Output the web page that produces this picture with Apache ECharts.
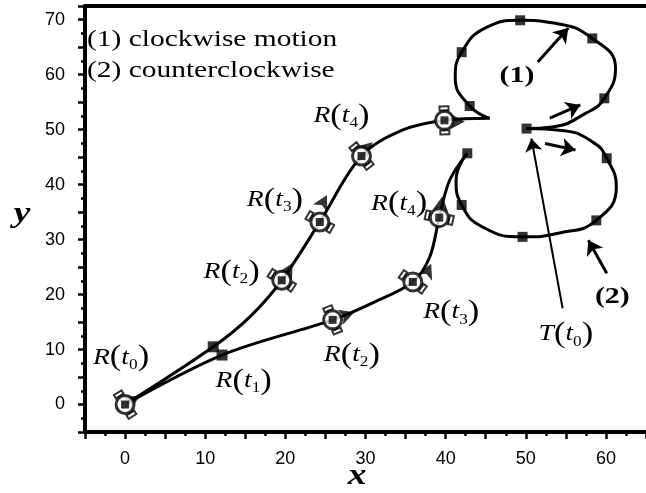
<!DOCTYPE html>
<html><head><meta charset="utf-8">
<script src="https://cdn.jsdelivr.net/npm/echarts@6/dist/echarts.min.js"></script>
<style>html,body{margin:0;padding:0;background:#fff}#c{width:646px;height:493px}</style>
</head><body><div id="c"></div>
<script>
// ---- data (in axis units) ----
const xTickLabels = [0, 10, 20, 30, 40, 50, 60];
const yTickLabels = [0, 10, 20, 30, 40, 50, 60, 70];

const robotPath1 = [[0,0],[11.0,10.5],[15.6,16.0],[19.55,22.6],[24.3,33.2],[29.5,45.2],[34.6,49.9],[39.85,51.7],[45.5,52.1]];
const robotPath2 = [[0,0],[12.1,9.0],[25.9,15.4],[30.9,18.5],[35.9,22.3],[38.0,26.8],[39.2,34.0],[40.5,40.8],[42.7,45.7]];
const targetLoop1 = [[50.1,50.2],[53.3,50.5],[57.5,53.0],[59.8,55.7],[61.2,61.2],[58.3,66.6],[53.5,69.4],[49.3,69.9],[45.1,68.6],[42.0,64.1],[41.2,59.5],[43.0,54.3],[45.5,52.1]];
const targetLoop2 = [[50.1,50.2],[54.8,49.8],[58.5,47.6],[60.1,44.8],[61.3,39.6],[58.8,33.5],[54.2,31.2],[49.6,30.5],[44.6,32.3],[42.0,36.3],[41.3,40.8],[42.7,45.7]];

const targetSquares = [[50.1,50.2],[59.8,55.7],[58.3,66.6],[49.3,69.9],[42.0,64.1],[43.0,54.3],
                       [60.1,44.8],[58.8,33.5],[49.6,30.5],[42.0,36.3],[42.7,45.7]];
const robotSquares = [[11.0,10.5],[12.1,9.0]];

// robot poses: x, y, heading (deg)
const robotPoses = [[0,0,32],[19.55,22.6,57],[24.3,33.2,60],[29.5,45.2,38],[39.85,51.7,2],
                    [25.9,15.4,22],[35.9,22.3,55],[39.2,34.0,78]];
// heading arrowheads: x, y, heading (deg)
const headingArrows = [[1.8,1.6,32],[20.9,25.7,60],[25.2,38.1,62],[30.9,47.7,42],[42.4,51.5,0],
                       [28.6,16.8,20],[38.2,25.6,65],[39.6,37.9,82]];
// pointer arrows: from -> to
const pointerArrows = [[[51.5,62.3],[55.3,68.5]],[[53.0,52.1],[56.8,54.5]],[[52.4,47.5],[56.2,46.3]],[[60.1,23.9],[57.8,29.9]]];
const targetPointer = [[[54.6,17.5],[50.7,48.4]]];

// point labels: letter, subscript, x, y
const pointLabels = [['R','0',-0.5,8.6],['R','1',14.8,4.3],['R','2',13.3,24.1],['R','3',18.7,37.2],['R','4',27.0,52.5],
                     ['R','2',28.3,9.0],['R','3',40.7,16.8],['R','4',34.2,36.6],['T','0',55.0,12.8]];
const loopLabels = [['(1)',48.9,59.7],['(2)',60.8,19.5]];
const legendLines = ['(1) clockwise motion','(2) counterclockwise'];

// ---- chart ----
const SERIF = "'Liberation Serif','Times New Roman',serif";
const SANS = "'Liberation Sans',Arial,Helvetica,sans-serif";
const wheelPath = 'path://M0 0H11V6H0Z M2 2V4H9V2Z M0 24H11V30H0Z M2 26V28H9V26Z';

function axisCommon(labels){
  return {
    axisLine:{show:true,onZero:false,lineStyle:{color:'#000',width:4}},
    axisTick:{show:true,inside:false,length:7,lineStyle:{color:'#000',width:2.5}},
    minorTick:{show:true,splitNumber:2,length:4,lineStyle:{color:'#000',width:2.5}},
    splitLine:{show:false},minorSplitLine:{show:false},
    axisLabel:{formatter:v=>labels.includes(v)?String(v):'',fontSize:18,fontFamily:SANS,color:'#000'}
  };
}
const xa = axisCommon(xTickLabels); xa.axisLabel.margin = 18;
const ya = axisCommon(yTickLabels); ya.axisLabel.margin = 20;

const lineStyleBase = {color:'#000',width:3};
const option = {
  animation:false,
  backgroundColor:'#fff',
  grid:{left:85,right:0,top:6,bottom:61,containLabel:false,outerBoundsMode:'none'},
  xAxis:[Object.assign({type:'value',min:-5,max:65,interval:5,position:'bottom'},xa),
         {type:'value',min:-5,max:65,position:'top',axisLine:{show:true,onZero:false,lineStyle:{color:'#000',width:4}},
          axisTick:{show:false},axisLabel:{show:false},splitLine:{show:false}}],
  yAxis:[Object.assign({type:'value',min:-5,max:72.5,interval:5},ya)],
  series:[
    {type:'line',data:robotPath1,showSymbol:false,smooth:0.35,lineStyle:lineStyleBase,z:2,silent:true},
    {type:'line',data:robotPath2,showSymbol:false,smooth:0.35,lineStyle:lineStyleBase,z:2,silent:true},
    {type:'line',data:targetLoop1,showSymbol:false,smooth:0.5,lineStyle:lineStyleBase,z:2,silent:true},
    {type:'line',data:targetLoop2,showSymbol:false,smooth:0.5,lineStyle:lineStyleBase,z:2,silent:true},
    {type:'lines',coordinateSystem:'cartesian2d',data:pointerArrows.map(c=>({coords:c})),symbol:['none','arrow'],symbolSize:14,
     lineStyle:{color:'#000',width:3,opacity:1,curveness:0},z:3,silent:true},
    {type:'lines',coordinateSystem:'cartesian2d',data:targetPointer.map(c=>({coords:c})),symbol:['none','arrow'],symbolSize:13,
     lineStyle:{color:'#000',width:2,opacity:1,curveness:0},z:3,silent:true},
    {type:'scatter',data:targetSquares,symbol:'rect',symbolSize:10,itemStyle:{color:'#000'},z:5,silent:true},
    {type:'scatter',data:robotSquares,symbol:'rect',symbolSize:11,itemStyle:{color:'#000'},z:5,silent:true},
    {type:'scatter',data:headingArrows.map(a=>({value:[a[0],a[1]],symbolRotate:a[2]-90})),symbol:'arrow',symbolSize:[12,15],
     itemStyle:{color:'#000'},z:4,silent:true},
    {type:'scatter',data:robotPoses.map(p=>({value:[p[0],p[1]],symbolRotate:p[2]})),symbol:wheelPath,symbolSize:[11,30],
     itemStyle:{color:'#000'},z:5,silent:true},
    {type:'scatter',data:robotPoses.map(p=>[p[0],p[1]]),symbol:'circle',symbolSize:18,
     itemStyle:{color:'#fff',borderColor:'#000',borderWidth:3},z:6,silent:true},
    {type:'scatter',data:robotPoses.map(p=>[p[0],p[1]]),symbol:'rect',symbolSize:8,itemStyle:{color:'#000'},z:7,silent:true}
  ]
};
const chart = echarts.init(document.getElementById('c'),null,{renderer:'canvas'});
chart.setOption(option);

const rich = {
  a:{fontFamily:SERIF,fontStyle:'italic',fontSize:24,lineHeight:30,verticalAlign:'middle',fill:'#000',color:'#000'},
  p:{fontFamily:SERIF,fontSize:30,lineHeight:30,verticalAlign:'middle',fill:'#000',color:'#000'},
  s:{fontFamily:SERIF,fontSize:15,lineHeight:18,verticalAlign:'bottom',fill:'#000',color:'#000'}
};
const graphics = [];
pointLabels.forEach(([L,sub,x,y])=>{
  const p = chart.convertToPixel({gridIndex:0},[x,y]);
  graphics.push({type:'text',x:p[0],y:p[1],scaleX:1.15,z:100,
    style:{text:'{a|'+L+'}{p|(}{a|t}{s|'+sub+'}{p|)}',rich:rich,align:'center',verticalAlign:'middle',
           textAlign:'center',textVerticalAlign:'middle',fill:'#000'}});
});
loopLabels.forEach(([t,x,y])=>{
  const p = chart.convertToPixel({gridIndex:0},[x,y]);
  graphics.push({type:'text',x:p[0],y:p[1],scaleX:1.3,z:100,
    style:{text:t,font:'bold 23px '+SERIF,align:'center',verticalAlign:'middle',textAlign:'center',textVerticalAlign:'middle',fill:'#000'}});
});
legendLines.forEach((t,i)=>{
  graphics.push({type:'text',x:87,y:40+i*31,scaleX:1.28,z:100,
    style:{text:t,font:'23px '+SERIF,align:'left',verticalAlign:'middle',textAlign:'left',textVerticalAlign:'middle',fill:'#000'}});
});
graphics.push({type:'text',x:357,y:476,scaleX:1.25,z:100,
  style:{text:'x',font:'italic bold 30px '+SERIF,align:'center',verticalAlign:'middle',textAlign:'center',textVerticalAlign:'middle',fill:'#000'}});
graphics.push({type:'text',x:22,y:214,scaleX:1.25,z:100,
  style:{text:'y',font:'italic bold 30px '+SERIF,align:'center',verticalAlign:'middle',textAlign:'center',textVerticalAlign:'middle',fill:'#000'}});
chart.setOption({graphic:graphics});
</script></body></html>
